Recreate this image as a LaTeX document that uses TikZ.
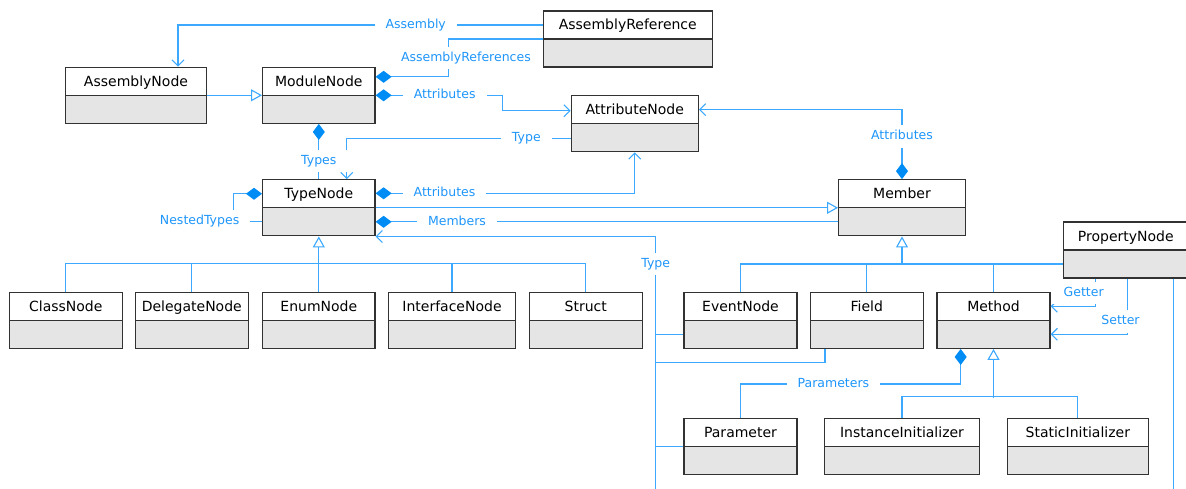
\documentclass[tikz,border=0pt]{standalone}
\usepackage{fontspec}
\setmainfont{DejaVu Sans}
\usetikzlibrary{arrows.meta}
\definecolor{linecol}{RGB}{60,168,255}
\definecolor{lblcol}{RGB}{30,150,250}
\definecolor{diamcol}{RGB}{0,140,245}
\definecolor{boxline}{RGB}{50,50,50}
\definecolor{boxgray}{RGB}{229,229,229}

\begin{document}
\begin{tikzpicture}[x=1pt, y=-1pt,
	cls/.style={draw=boxline, line width=1.3pt, fill=white, minimum width=#1pt, minimum height=56pt,
		inner xsep=0pt, inner ysep=7pt, text height=12pt, text depth=30pt, font=\fontsize{14}{16}\selectfont,
		path picture={
			\fill[boxgray] (path picture bounding box.west) rectangle (path picture bounding box.south east);
			\draw[boxline, line width=1.3pt] (path picture bounding box.west) -- (path picture bounding box.east);}},
	lbl/.style={fill=white, text=lblcol, font=\fontsize{12.5}{14}\selectfont, inner xsep=11pt, inner ysep=5pt,
		text height=9.5pt, text depth=3pt},
	comptip/.tip={Diamond[length=16pt, width=12pt, color=diamcol]},
	navtip/.tip={Straight Barb[length=6pt, width=12pt]},
	gentip/.tip={Triangle[open, length=11pt, width=12pt, fill=white]},
	assoc/.style={draw=linecol, line width=1.1pt},
	nav/.style={assoc, -navtip},
	comp/.style={assoc, comptip-},
	compnav/.style={assoc, comptip-navtip},
	gen/.style={assoc, -gentip}]
	\useasboundingbox (0,0) rectangle (1186,489);

	\node[cls=169] (asmref) at (627.8,39) {AssemblyReference};
	\node[cls=140.6] (asmnode) at (136,95.3) {AssemblyNode};
	\node[cls=112.3] (modnode) at (318.8,95.3) {ModuleNode};
	\node[cls=127] (attrnode) at (634.8,123.7) {AttributeNode};
	\node[cls=112.3] (typenode) at (318.8,207.8) {TypeNode};
	\node[cls=126.6] (member) at (902,207.8) {Member};
	\node[cls=124.3] (propnode) at (1125.8,250) {PropertyNode};

	\node[cls=113] (classnode) at (65.8,320.3) {ClassNode};
	\node[cls=113] (delegatenode) at (191.8,320.3) {DelegateNode};
	\node[cls=112.3] (enumnode) at (318.8,320.3) {EnumNode};
	\node[cls=127.4] (ifacenode) at (452,320.3) {InterfaceNode};
	\node[cls=113] (structnode) at (585.8,320.3) {Struct};
	\node[cls=113] (eventnode) at (740.5,320.3) {EventNode};
	\node[cls=113] (fieldnode) at (866.8,320.3) {Field};
	\node[cls=113] (methodnode) at (993.5,320.3) {Method};

	\node[cls=113] (paramnode) at (740.5,446.8) {Parameter};
	\node[cls=154.6] (instinit) at (902,446.8) {InstanceInitializer};
	\node[cls=141] (statinit) at (1077.8,446.8) {StaticInitializer};

	\coordinate (typebus) at (655.7,490);

	\draw[nav] ([yshift=14pt]asmref.west) -| node[lbl, pos=0.174] {Assembly} ([xshift=42pt]asmnode.north);
	\draw[comp] ([yshift=18.5pt]modnode.east) -- ++(73.3,0) |- node[lbl, pos=0.25, xshift=17pt] {AssemblyReferences} (asmref.west);
	\draw[compnav] (modnode.east) -- node[lbl, pos=0.545] {Attributes} ++(126.7,0) |- ([yshift=13pt]attrnode.west);
	\draw[gen] (asmnode.east) -- (modnode.west);
	\draw[nav] ([yshift=-14.5pt]attrnode.west) -| node[lbl, pos=0.099] {Type} ([xshift=28pt]typenode.north);
	\draw[comp] (modnode.south) -- node[lbl, pos=0.67] {Types} (typenode.north);

	\draw[comp] ([yshift=14pt]typenode.west) -- ++(-28.4,0) |- node[lbl, pos=0.5, xshift=-34pt] {NestedTypes} ([yshift=-13.3pt]typenode.west);
	\draw[compnav] ([yshift=14.5pt]typenode.east) -| node[lbl, pos=0.133] {Attributes} (attrnode.south);
	\draw[gen] (typenode.east) -- (member.west);
	\draw[comp] ([yshift=-14pt]typenode.east) -- node[lbl, pos=0.176] {Members} ([yshift=-14pt]member.west);
	\draw[compnav] (member.north) |- node[lbl, pos=0.306] {Attributes} ([yshift=14pt]attrnode.east);

	\draw[nav] (typebus) |- node[lbl, pos=0.446] {Type} (typenode.south east);
	\draw[assoc] ([yshift=-14pt]eventnode.west) -- ++(-28.3,0);
	\draw[assoc] ([xshift=-41.8pt]fieldnode.south) -- ++(0,13.7) -- ++(-169.3,0);
	\draw[assoc] (paramnode.west) -- ++(-28.3,0);
	\draw[assoc] ([xshift=48pt]propnode.south) -- ++(0,212);

	\draw[assoc] (classnode.north) -- ++(0,-28.3) -| (structnode.north);
	\draw[assoc] (delegatenode.north) -- ++(0,-28.3);
	\draw[assoc] (ifacenode.north) -- ++(0,-28.3);
	\draw[gen] (enumnode.north) -- (typenode.south);

	\draw[assoc] (eventnode.north) |- ([yshift=-14pt]propnode.west);
	\draw[assoc] (fieldnode.north) -- ++(0,-28.3);
	\draw[assoc] (methodnode.north) -- ++(0,-28.3);
	\draw[gen] ([yshift=-28pt]member.south) -- (member.south);

	\draw[nav] ([xshift=-30.5pt]propnode.south) |- node[lbl, pos=0.26, xshift=-11.6pt] {Getter} ([yshift=14pt]methodnode.east);
	\draw[nav] ([xshift=1.3pt]propnode.south) |- node[lbl, pos=0.385, xshift=-6.6pt] {Setter} ([yshift=-14pt]methodnode.east);

	\draw[comp] ([xshift=-32.8pt]methodnode.south) -- ++(0,35) -| node[lbl, pos=0.289] {Parameters} (paramnode.north);
	\draw[assoc] (instinit.north) -- ++(0,-21.4) -| (statinit.north);
	\draw[gen] ([yshift=-49pt]methodnode.south) -- (methodnode.south);
\end{tikzpicture}
\end{document}
